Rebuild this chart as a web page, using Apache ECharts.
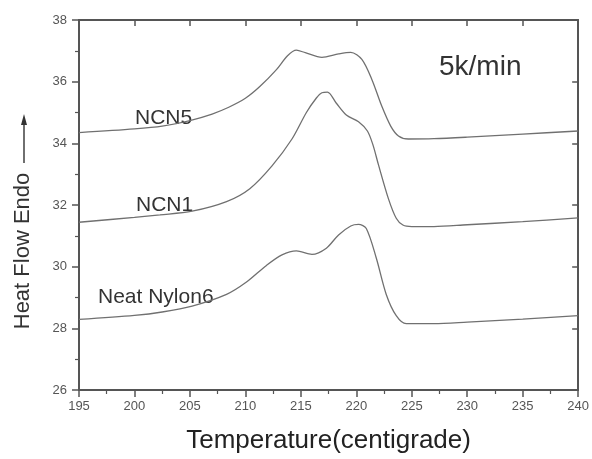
<!DOCTYPE html>
<html>
<head>
<meta charset="utf-8">
<script src="https://cdn.jsdelivr.net/npm/echarts@6/dist/echarts.min.js"></script>
<style>
  html, body { margin: 0; padding: 0; background: #fff; }
  #chart { width: 592px; height: 459px; }
</style>
</head>
<body>
<div id="chart"></div>
<script>
// DSC melting curves at 5 K/min
const tempNCN5 = [195, 200, 202.5, 205, 207, 208.5, 210, 211.3, 212.8, 213.8, 214.6, 215.4, 216.9, 218.4, 219.5, 220.5, 221.4, 222.3, 223.1, 223.8, 224.7, 227, 230, 235, 240];
const heatNCN5 = [34.35, 34.47, 34.56, 34.74, 34.95, 35.17, 35.46, 35.84, 36.39, 36.84, 37.02, 36.94, 36.79, 36.9, 36.95, 36.72, 36.07, 35.2, 34.56, 34.24, 34.14, 34.15, 34.2, 34.3, 34.4];

const tempNCN1 = [195, 200, 202.3, 205.2, 208.3, 210.4, 212.4, 214.2, 215.5, 216.4, 216.9, 217.4, 218.2, 219.1, 220.2, 221.0, 221.5, 222.0, 222.9, 223.6, 224.2, 225, 227, 230, 235, 240];
const heatNCN1 = [31.44, 31.6, 31.68, 31.8, 32.11, 32.53, 33.27, 34.14, 35.0, 35.47, 35.64, 35.66, 35.3, 34.92, 34.7, 34.4, 33.95, 33.3, 32.2, 31.57, 31.35, 31.3, 31.3, 31.36, 31.46, 31.58];

const tempNylon6 = [195, 200, 202.5, 205.2, 208.3, 210.1, 211.9, 213.3, 214.6, 216.0, 217.3, 218.4, 219.5, 220.2, 220.9, 221.8, 222.7, 223.6, 224.5, 227, 230, 235, 240];
const heatNylon6 = [28.29, 28.42, 28.53, 28.72, 29.1, 29.5, 30.04, 30.38, 30.51, 30.4, 30.6, 31.03, 31.32, 31.37, 31.24, 30.28, 29.1, 28.41, 28.15, 28.15, 28.2, 28.3, 28.41];

const curveNames = ['NCN5', 'NCN1', 'Neat Nylon6'];
const curveTemps = [tempNCN5, tempNCN1, tempNylon6];
const curveHeats = [heatNCN5, heatNCN1, heatNylon6];

const xRange = [195, 240];
const yRange = [26, 38];

const FONT = 'Liberation Sans, Arial, sans-serif';
const AXIS_COLOR = '#555';

function pairs(xs, ys) {
  return xs.map((x, i) => [x, ys[i]]);
}

const chart = echarts.init(document.getElementById('chart'), null, { renderer: 'canvas' });

const series = curveNames.map((name, i) => ({
  name: name,
  type: 'line',
  xAxisIndex: 0,
  yAxisIndex: 0,
  smooth: 0.3,
  showSymbol: false,
  lineStyle: { color: '#707070', width: 1.3 },
  data: pairs(curveTemps[i], curveHeats[i])
}));

// in-plot annotations
function label(text, x, y, size) {
  return {
    type: 'text',
    x: x, y: y,
    style: {
      text: text,
      font: size + 'px ' + FONT,
      fill: '#333',
      textVerticalAlign: 'middle'
    }
  };
}

chart.setOption({
  animation: false,
  backgroundColor: '#fff',
  grid: { left: 79, right: 12, top: 20, bottom: 66, containLabel: false },
  xAxis: [
    {
      type: 'value', position: 'bottom',
      min: xRange[0], max: xRange[1], interval: 5,
      name: 'Temperature(centigrade)',
      nameLocation: 'middle', nameGap: 38,
      nameTextStyle: { fontFamily: FONT, fontSize: 26, color: '#222' },
      axisLine: { show: true, onZero: false, lineStyle: { color: AXIS_COLOR, width: 2 } },
      axisTick: { show: true, inside: false, length: 7, lineStyle: { color: AXIS_COLOR, width: 1.5 } },
      minorTick: { show: true, splitNumber: 2, length: 4, lineStyle: { color: AXIS_COLOR, width: 1.2 } },
      axisLabel: { fontFamily: FONT, fontSize: 13, color: '#555', margin: 10 },
      splitLine: { show: false }
    },
    {
      type: 'value', position: 'top',
      min: xRange[0], max: xRange[1], interval: 5,
      axisLine: { show: true, onZero: false, lineStyle: { color: AXIS_COLOR, width: 2 } },
      axisTick: { show: true, inside: true, length: 6, lineStyle: { color: AXIS_COLOR, width: 1.5 } },
      axisLabel: { show: false },
      splitLine: { show: false }
    }
  ],
  yAxis: [
    {
      type: 'value', position: 'left',
      min: yRange[0], max: yRange[1], interval: 2,
      axisLine: { show: true, onZero: false, lineStyle: { color: AXIS_COLOR, width: 2 } },
      axisTick: { show: true, inside: false, length: 7, lineStyle: { color: AXIS_COLOR, width: 1.5 } },
      minorTick: { show: true, splitNumber: 2, length: 4, lineStyle: { color: AXIS_COLOR, width: 1.2 } },
      axisLabel: { fontFamily: FONT, fontSize: 13, color: '#555', margin: 12 },
      splitLine: { show: false }
    },
    {
      type: 'value', position: 'right',
      min: yRange[0], max: yRange[1], interval: 2,
      axisLine: { show: true, onZero: false, lineStyle: { color: AXIS_COLOR, width: 2 } },
      axisTick: { show: true, inside: true, length: 6, lineStyle: { color: AXIS_COLOR, width: 1.5 } },
      axisLabel: { show: false },
      splitLine: { show: false }
    }
  ],
  series: series,
  graphic: [
    label('NCN5', 135, 118, 21),
    label('NCN1', 136, 205, 21),
    label('Neat Nylon6', 98, 297, 21),
    label('5k/min', 439, 67, 28),
    {
      type: 'text',
      x: 23, y: 251,
      rotation: Math.PI / 2,
      style: {
        text: 'Heat Flow Endo',
        font: '22px ' + FONT,
        fill: '#333',
        textAlign: 'center',
        textVerticalAlign: 'middle'
      }
    },
    {
      type: 'line',
      shape: { x1: 24, y1: 163, x2: 24, y2: 122 },
      style: { stroke: '#333', lineWidth: 1.4 }
    },
    {
      type: 'polygon',
      shape: { points: [[24, 114], [21, 125], [27, 125]] },
      style: { fill: '#333' }
    }
  ]
});
</script>
</body>
</html>
